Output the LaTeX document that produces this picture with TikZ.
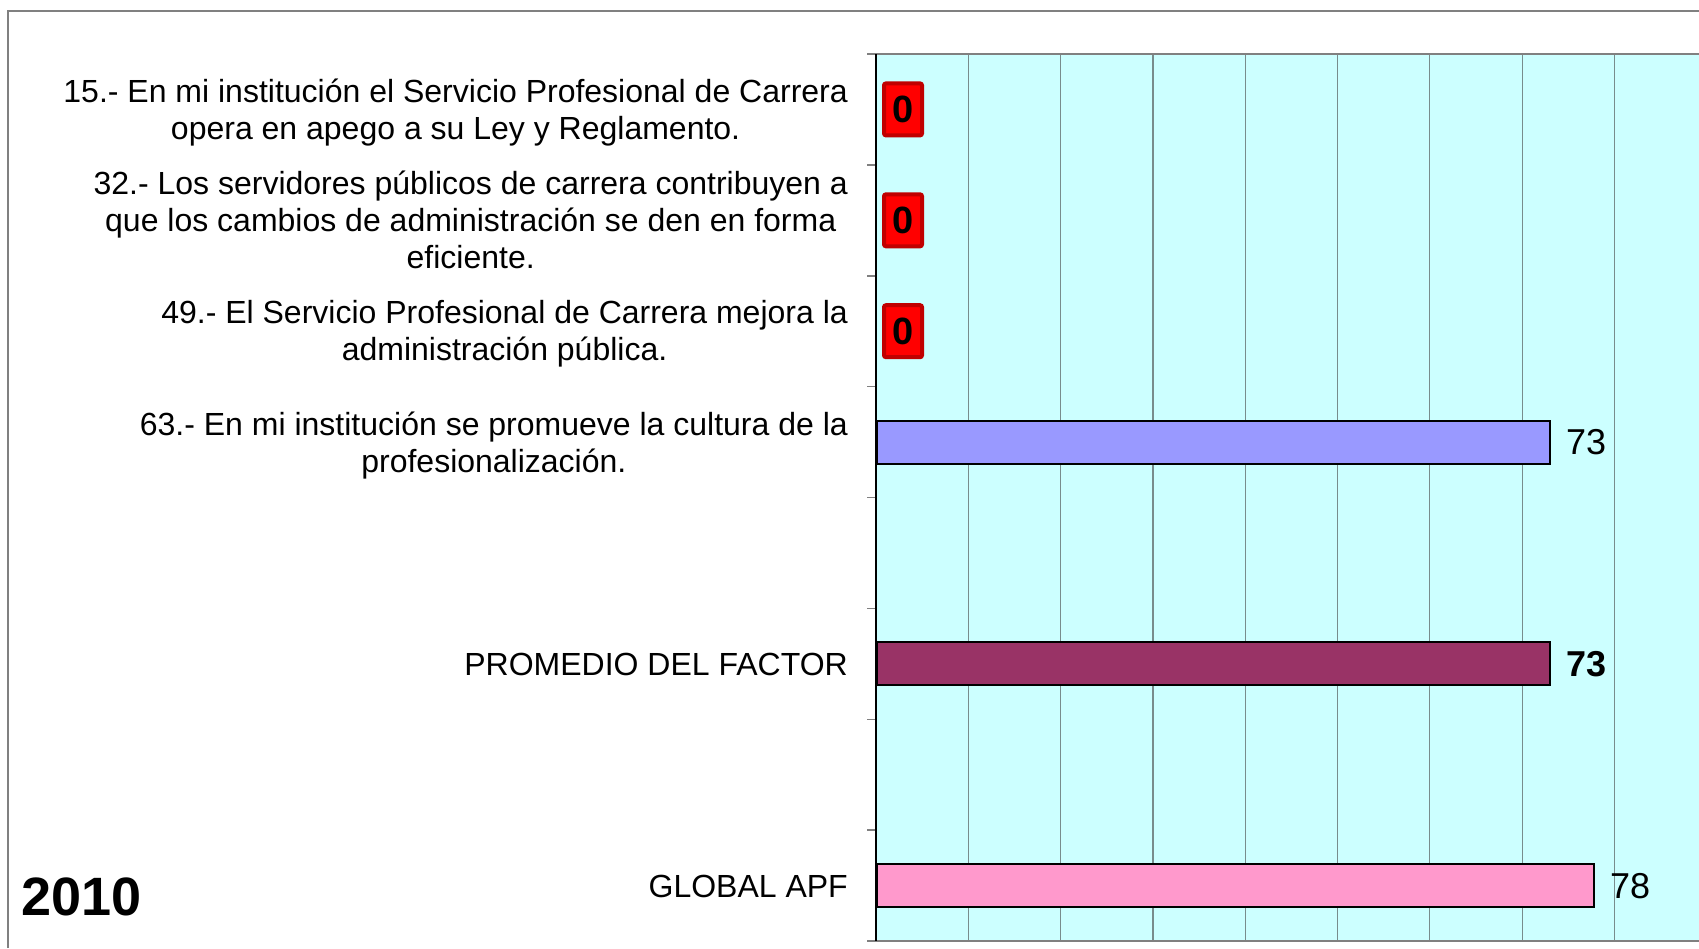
\documentclass[tikz,border=0pt]{standalone}
\usepackage{fontspec}
\setmainfont{Liberation Sans}
\definecolor{plotbg}{RGB}{204,255,255}
\definecolor{gridc}{RGB}{120,140,140}
\definecolor{framec}{RGB}{128,128,128}
\definecolor{barblue}{RGB}{153,153,255}
\definecolor{barplum}{RGB}{153,51,102}
\definecolor{barpink}{RGB}{255,153,204}
\definecolor{zerofill}{RGB}{255,0,0}
\definecolor{zeroedge}{RGB}{192,0,0}
\tikzset{
  catlabel/.style={anchor=east, align=center, inner sep=0pt, yshift=-3pt, font=\fontsize{32}{37}\selectfont},
  barbox/.style={draw=black, line width=2pt, rectangle, anchor=west, minimum height=43pt, inner sep=0pt},
  vallabel/.style={anchor=west, inner sep=0pt, xshift=15pt, font=\fontsize{36}{40}\selectfont},
  zerobox/.style={rectangle, rounded corners=2pt, fill=zerofill, draw=zeroedge, line width=4pt,
     minimum width=38pt, minimum height=52pt, inner sep=0pt, font=\fontsize{38}{40}\selectfont\bfseries},
  gridline/.style={draw=gridc, line width=1.2pt},
  tickline/.style={draw=framec, line width=1.5pt}
}
\begin{document}
\begin{tikzpicture}[x=1pt,y=-1pt]
\useasboundingbox (0,0) rectangle (1699,948);
% outer frame
\draw[framec, line width=1.5pt] (8,948) -- (8,11) -- (1699,11);
% plot area
\fill[plotbg] (876,54) rectangle (1699,941);
\foreach \i in {1,...,8} {
  \draw[gridline] ({876+92.3*\i},54) -- ({876+92.3*\i},941);
}
\foreach \i in {0,...,8} {
  \draw[tickline] (867,{54+110.875*\i}) -- (876,{54+110.875*\i});
}
\draw[framec, line width=2.5pt] (876,54) -- (1699,54);
\draw[framec, line width=2pt] (876,941) -- (1699,941);
\draw[black, line width=2pt] (876,54) -- (876,941);
% category labels
\node[catlabel] (l15) at (848,109.4) {15.- En mi institución el Servicio Profesional de Carrera\\opera en apego a su Ley y Reglamento.};
\node[catlabel, yshift=3.3pt] (l32) at (848,220.3) {32.- Los servidores públicos de carrera contribuyen a\\que los cambios de administración se den en forma\\eficiente.};
\node[catlabel] (l49) at (848,331.2) {49.- El Servicio Profesional de Carrera mejora la\\administración pública.};
\node[catlabel] (l63) at (848,442.1) {63.- En mi institución se promueve la cultura de la\\profesionalización.};
\node[catlabel, yshift=2.2pt] (lprom) at (848,663.8) {PROMEDIO DEL FACTOR};
\node[catlabel, yshift=2.2pt] (lglob) at (848,885.6) {GLOBAL APF};
% zero markers
\node[zerobox] (z15) at (903,109.4) {0};
\node[zerobox] (z32) at (903,220.3) {0};
\node[zerobox] (z49) at (903,331.2) {0};
% bars
\node[barbox, fill=barblue, minimum width=673pt] (b63) at (876,442.1) {};
\node[barbox, fill=barplum, minimum width=673pt] (bprom) at (876,663.8) {};
\node[barbox, fill=barpink, minimum width=717pt] (bglob) at (876,885.6) {};
% values
\node[vallabel] (v63) at (b63.east) {73};
\node[vallabel, font=\fontsize{36}{40}\selectfont\bfseries] (vprom) at (bprom.east) {73};
\node[vallabel] (vglob) at (bglob.east) {78};
% year
\node[anchor=base west, inner sep=0pt, font=\fontsize{54}{58}\selectfont\bfseries] (year) at (21,915) {2010};
\end{tikzpicture}
\end{document}
